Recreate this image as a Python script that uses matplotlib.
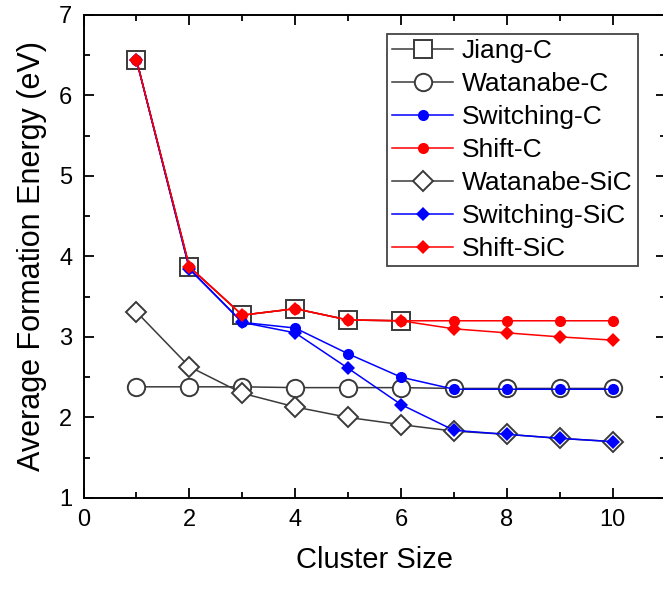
import numpy as np
import matplotlib.pyplot as plt
from matplotlib.ticker import MultipleLocator

plt.rcParams['font.family'] = ['Liberation Sans', 'DejaVu Sans']

# ============================
# Data
# ============================
size_jiang = [1, 2, 3, 4, 5, 6]
size_all = [1, 2, 3, 4, 5, 6, 7, 8, 9, 10]

jiang_c = [6.44, 3.87, 3.27, 3.35, 3.21, 3.20]
watanabe_c = [2.38, 2.38, 2.38, 2.37, 2.37, 2.37, 2.36, 2.36, 2.36, 2.36]
switching_c = [6.44, 3.85, 3.18, 3.11, 2.79, 2.50, 2.35, 2.35, 2.35, 2.35]
shift_c = [6.44, 3.87, 3.27, 3.35, 3.21, 3.20, 3.20, 3.20, 3.20, 3.20]
watanabe_sic = [3.31, 2.63, 2.30, 2.13, 2.00, 1.91, 1.83, 1.79, 1.74, 1.70]
switching_sic = [6.44, 3.84, 3.18, 3.05, 2.61, 2.16, 1.84, 1.79, 1.74, 1.70]
shift_sic = [6.44, 3.87, 3.27, 3.35, 3.21, 3.20, 3.10, 3.05, 3.00, 2.96]

# ============================
# Plot
# ============================
fig = plt.figure(figsize=(6.63, 5.9), dpi=100)
# right spine sits just past the image edge, like the reference
ax = fig.add_axes([0.126, 0.156, 0.878, 0.819])

gray = '#3a3a3a'
blue = '#0000ff'
red = '#ff0000'

ax.plot(size_jiang, jiang_c, color=gray, lw=1.1, marker='s', ms=13,
        mfc='white', mec=gray, mew=1.4, label='Jiang-C')
ax.plot(size_all, watanabe_c, color=gray, lw=1.1, marker='o', ms=12.5,
        mfc='white', mec=gray, mew=1.4, label='Watanabe-C')
ax.plot(size_all, switching_c, color=blue, lw=1.1, marker='o', ms=8,
        mfc=blue, mec=blue, mew=0, label='Switching-C')
ax.plot(size_all, shift_c, color=red, lw=1.1, marker='o', ms=8,
        mfc=red, mec=red, mew=0, label='Shift-C')
ax.plot(size_all, watanabe_sic, color=gray, lw=1.1, marker='D', ms=10.5,
        mfc='white', mec=gray, mew=1.4, label='Watanabe-SiC')
ax.plot(size_all, switching_sic, color=blue, lw=1.1, marker='D', ms=7,
        mfc=blue, mec=blue, mew=0, label='Switching-SiC')
ax.plot(size_all, shift_sic, color=red, lw=1.1, marker='D', ms=7,
        mfc=red, mec=red, mew=0, label='Shift-SiC')

# ============================
# Formatting
# ============================
ax.set_xlim(0, 11)
ax.set_ylim(1, 7)
ax.xaxis.set_major_locator(MultipleLocator(2))
ax.xaxis.set_minor_locator(MultipleLocator(1))
ax.yaxis.set_major_locator(MultipleLocator(1))
ax.yaxis.set_minor_locator(MultipleLocator(0.5))
ax.tick_params(which='both', direction='in', top=True, right=True,
               width=1.3, labelsize=17, pad=8)
ax.tick_params(which='major', length=7)
ax.tick_params(which='minor', length=4)
for sp in ax.spines.values():
    sp.set_linewidth(1.4)

ax.set_xlabel('Cluster Size', fontsize=21, labelpad=11)
ax.set_ylabel('Average Formation Energy (eV)', fontsize=22, labelpad=9)

leg = ax.legend(loc='upper right', bbox_to_anchor=(638 / 663, 1 - 34 / 590),
                bbox_transform=fig.transFigure, borderaxespad=0,
                fancybox=False, framealpha=1, edgecolor='#444444',
                fontsize=19, handlelength=2.3, handletextpad=0.35,
                labelspacing=0.34, borderpad=0.2)
leg.get_frame().set_linewidth(1.3)

fig.savefig('out.png', dpi=100)
